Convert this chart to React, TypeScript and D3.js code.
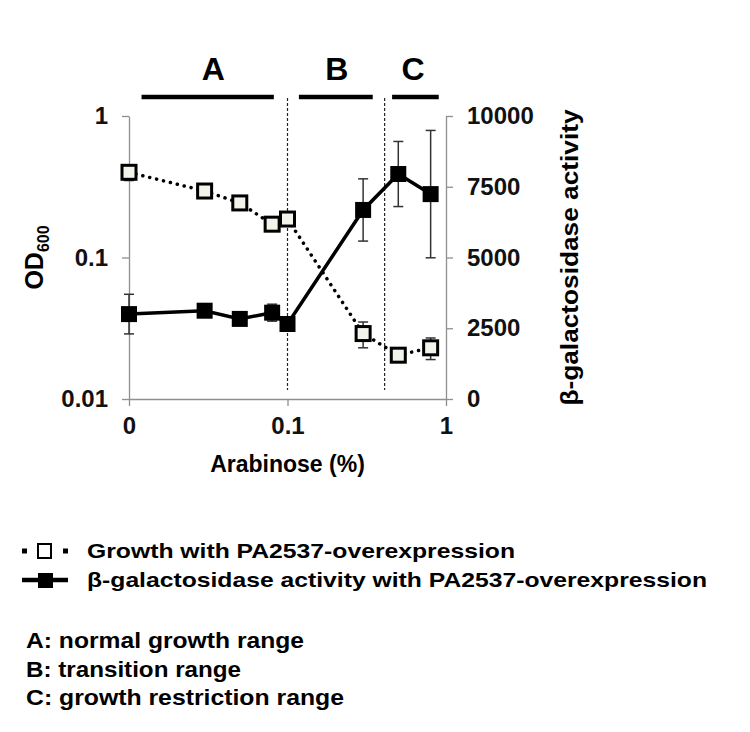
import * as d3 from 'd3';
import React, { useRef, useEffect } from 'react';

// arabinose concentrations (%), 0 is drawn at the left edge of the log axis
const arabinose = [0, 0.03, 0.05, 0.08, 0.1, 0.3, 0.5, 0.8];
const od600 = [0.4, 0.295, 0.243, 0.172, 0.187, 0.029, 0.0204, 0.023];
const od600Err = [0.05, 0.012, 0.01, 0.012, 0.015, 0.006, 0.0012, 0.004];
const galActivity = [3000, 3120, 2830, 3050, 2650, 6680, 7950, 7240];
const galErr = [700, 100, 90, 300, 90, 1100, 1150, 2250];

const xTicks = [0.01, 0.1, 1];
const xTickLabels = ['0', '0.1', '1'];
const leftTicks = [1, 0.1, 0.01];
const leftTickLabels = ['1', '0.1', '0.01'];
const rightTicks = [0, 2500, 5000, 7500, 10000];

const rangeNames = ['A', 'B', 'C'];
const rangeStart = [0.012, 0.118, 0.457];
const rangeEnd = [0.082, 0.345, 0.9];
const rangeLabelAt = [0.034, 0.205, 0.62];
const boundaries = [0.1, 0.41];

const legendLabels = ['Growth with PA2537-overexpression', 'β-galactosidase activity with PA2537-overexpression'];
const notes = ['A: normal growth range', 'B: transition range', 'C: growth restriction range'];

function App() {
    const ref = useRef<SVGSVGElement>(null);
    const width = 750, height = 732;
    const font = 'Arial, "Liberation Sans", sans-serif';
    const margin = { top: 116, right: 304, bottom: 333, left: 129 };

    useEffect(() => {
        draw();
    });

    const draw = () => {
        const svg = d3.select(ref.current);
        svg.selectAll('*').remove();

        const x = d3.scaleLog().domain([0.01, 1]).range([margin.left, width - margin.right]);
        const yL = d3.scaleLog().domain([0.01, 1]).range([height - margin.bottom, margin.top]);
        const yR = d3.scaleLinear().domain([0, 10000]).range([height - margin.bottom, margin.top]);
        const xv = (v: number) => x(Math.max(v, 0.01));

        const axisColor = '#8f8f8f';

        const left = svg.append('g').attr('transform', `translate(${margin.left},0)`)
            .call(d3.axisLeft(yL).tickValues(leftTicks).tickFormat((d, i) => leftTickLabels[i]).tickSize(7).tickSizeOuter(0));
        const right = svg.append('g').attr('transform', `translate(${width - margin.right},0)`)
            .call(d3.axisRight(yR).tickValues(rightTicks).tickFormat(d3.format('d')).tickSize(7).tickSizeOuter(0));
        const bottom = svg.append('g').attr('transform', `translate(0,${height - margin.bottom})`)
            .call(d3.axisBottom(x).tickValues(xTicks).tickFormat((d, i) => xTickLabels[i]).tickSize(7).tickSizeOuter(0));

        [left, right, bottom].forEach(g => {
            g.select('.domain').attr('stroke', axisColor).attr('stroke-width', 1.3);
            g.selectAll('.tick line').attr('stroke', axisColor).attr('stroke-width', 1.3);
            g.selectAll('.tick text')
                .attr('fill', '#111')
                .style('font-family', font)
                .style('font-size', '24px')
                .style('font-weight', 'bold');
        });
        left.selectAll('.tick text').attr('x', -21);
        right.selectAll('.tick text').attr('x', 21);
        bottom.selectAll('.tick text').attr('y', 18);

        // range boundaries
        svg.append('g').selectAll('line').data(boundaries).enter().append('line')
            .attr('x1', d => x(d)).attr('x2', d => x(d))
            .attr('y1', 98).attr('y2', 390)
            .attr('stroke', '#222').attr('stroke-width', 1.2).attr('stroke-dasharray', '3,2');

        // range bars and letters
        const rg = svg.append('g');
        rg.selectAll('line').data(rangeNames).enter().append('line')
            .attr('x1', (d, i) => x(rangeStart[i])).attr('x2', (d, i) => x(rangeEnd[i]))
            .attr('y1', 97).attr('y2', 97)
            .attr('stroke', '#000').attr('stroke-width', 4.5);
        rg.selectAll('text').data(rangeNames).enter().append('text')
            .attr('x', (d, i) => x(rangeLabelAt[i]))
            .attr('y', 80)
            .attr('text-anchor', 'middle')
            .style('font-family', font).style('font-size', '32px').style('font-weight', 'bold')
            .text(d => d);

        const idx = d3.range(arabinose.length);

        // growth (dotted, open squares)
        svg.append('path')
            .attr('d', d3.line<number>().x(i => xv(arabinose[i])).y(i => yL(od600[i]))(idx))
            .attr('fill', 'none').attr('stroke', '#000').attr('stroke-width', 3.5)
            .attr('stroke-dasharray', '0.1,7').attr('stroke-linecap', 'round');

        // activity (solid)
        svg.append('path')
            .attr('d', d3.line<number>().x(i => xv(arabinose[i])).y(i => yR(galActivity[i]))(idx))
            .attr('fill', 'none').attr('stroke', '#000').attr('stroke-width', 3.5);

        const errG = svg.append('g').attr('stroke', '#333').attr('stroke-width', 1.5);
        const cap = 5;
        idx.forEach(i => {
            const cx = xv(arabinose[i]);
            const t1 = yL(od600[i] + od600Err[i]), b1 = yL(od600[i] - od600Err[i]);
            const t2 = yR(galActivity[i] + galErr[i]), b2 = yR(galActivity[i] - galErr[i]);
            [[t1, b1], [t2, b2]].forEach(([t, b]) => {
                errG.append('line').attr('x1', cx).attr('x2', cx).attr('y1', t).attr('y2', b);
                errG.append('line').attr('x1', cx - cap).attr('x2', cx + cap).attr('y1', t).attr('y2', t);
                errG.append('line').attr('x1', cx - cap).attr('x2', cx + cap).attr('y1', b).attr('y2', b);
            });
        });

        const s = 14;
        svg.append('g').selectAll('rect').data(idx).enter().append('rect')
            .attr('x', i => xv(arabinose[i]) - s / 2).attr('y', i => yL(od600[i]) - s / 2)
            .attr('width', s).attr('height', s)
            .attr('fill', '#f3f3ec').attr('stroke', '#000').attr('stroke-width', 3);

        svg.append('g').selectAll('rect').data(idx).enter().append('rect')
            .attr('x', i => xv(arabinose[i]) - 8).attr('y', i => yR(galActivity[i]) - 8)
            .attr('width', 16).attr('height', 16)
            .attr('fill', '#000');

        // axis titles
        const yMid = (margin.top + height - margin.bottom) / 2;
        const odLabel = svg.append('text')
            .attr('transform', `translate(43,${yMid}) rotate(-90)`)
            .attr('text-anchor', 'middle')
            .style('font-family', font).style('font-size', '25px').style('font-weight', 'bold');
        odLabel.append('tspan').text('OD');
        odLabel.append('tspan').attr('dy', 6).style('font-size', '16px').text('600');

        svg.append('text')
            .attr('transform', `translate(578,${yMid}) rotate(-90)`)
            .attr('text-anchor', 'middle')
            .attr('textLength', 296).attr('lengthAdjust', 'spacingAndGlyphs')
            .style('font-family', font).style('font-size', '24px').style('font-weight', 'bold')
            .text('β-galactosidase activity');

        svg.append('text')
            .attr('x', x(0.1)).attr('y', 472)
            .attr('text-anchor', 'middle')
            .style('font-family', font).style('font-size', '23px').style('font-weight', 'bold')
            .text('Arabinose (%)');

        // legend
        const lg = svg.append('g');
        lg.append('line').attr('x1', 22).attr('x2', 68).attr('y1', 551).attr('y2', 551)
            .attr('stroke', '#000').attr('stroke-width', 5).attr('stroke-dasharray', '5,36');
        lg.append('rect').attr('x', 38).attr('y', 544).attr('width', 13).attr('height', 14)
            .attr('fill', '#fff').attr('stroke', '#000').attr('stroke-width', 2);
        lg.append('line').attr('x1', 22).attr('x2', 68).attr('y1', 580).attr('y2', 580)
            .attr('stroke', '#000').attr('stroke-width', 4.5);
        lg.append('rect').attr('x', 38).attr('y', 573).attr('width', 15).attr('height', 15).attr('fill', '#000');

        const legendWidths = [428, 620];
        lg.selectAll('text.leg').data(legendLabels)
            .enter().append('text')
            .attr('x', 87).attr('y', (d, i) => 558 + i * 29)
            .attr('textLength', (d, i) => legendWidths[i]).attr('lengthAdjust', 'spacingAndGlyphs')
            .style('font-family', font).style('font-size', '21px').style('font-weight', 'bold')
            .text(d => d);

        const noteWidths = [278, 215, 318];
        svg.append('g').selectAll('text').data(notes).enter().append('text')
            .attr('x', 26).attr('y', (d, i) => 648 + i * 28.5)
            .attr('textLength', (d, i) => noteWidths[i]).attr('lengthAdjust', 'spacingAndGlyphs')
            .style('font-family', font).style('font-size', '22px').style('font-weight', 'bold')
            .text(d => d);
    };

    return (
        <svg ref={ref} width={width} height={height}
            style={{ position: 'absolute', left: 0, top: 0, background: '#fff' }}>
        </svg>
    );
}

export default App;
